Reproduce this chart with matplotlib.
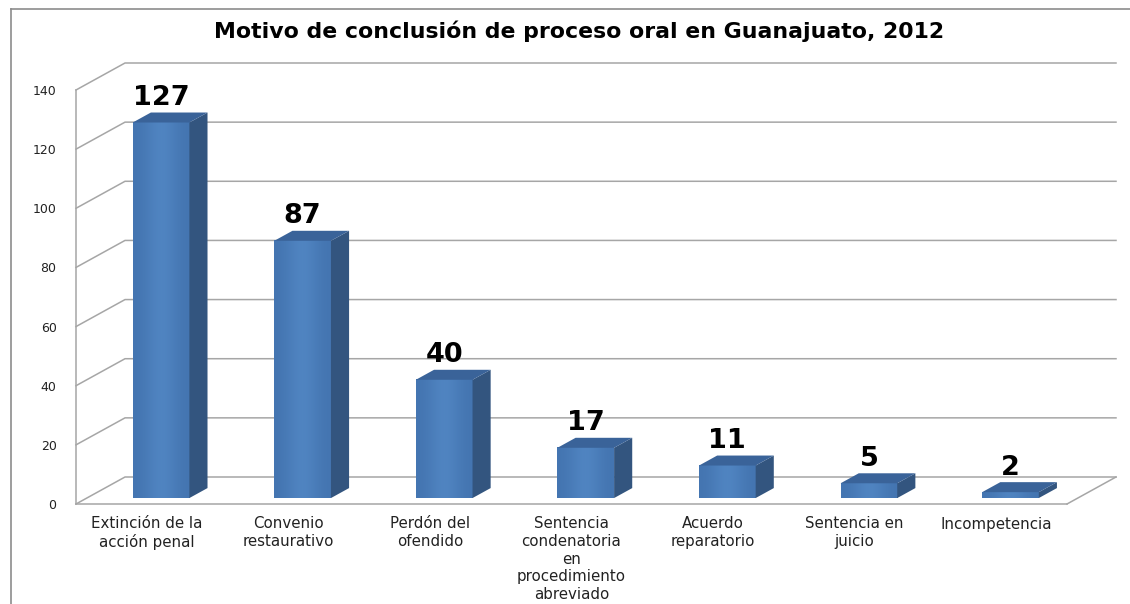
import matplotlib
matplotlib.use("Agg")
import matplotlib.pyplot as plt
from matplotlib.patches import Polygon
from matplotlib.lines import Line2D
from matplotlib.colors import LinearSegmentedColormap
import numpy as np

title = "Motivo de conclusión de proceso oral en Guanajuato, 2012"
categories = ["Extinción de la\nacción penal", "Convenio\nrestaurativo", "Perdón del\nofendido",
              "Sentencia\ncondenatoria\nen\nprocedimiento\nabreviado", "Acuerdo\nreparatorio",
              "Sentencia en\njuicio", "Incompetencia"]
values = [127, 87, 40, 17, 11, 5, 2]
yticks = [0, 20, 40, 60, 80, 100, 120, 140]

W, H = 1130, 604
fig = plt.figure(figsize=(W / 100, H / 100), dpi=100)
fig.patch.set_facecolor("white")

# axes placement (front plane)
x0px, x1px, y0px, y1px = 76, 1067, 504, 90
ax = fig.add_axes([x0px / W, 1 - y0px / H, (x1px - x0px) / W, (y0px - y1px) / H])
n = len(values)
xmin, xmax = -0.5, n - 0.5
ymax = 140
ax.set_xlim(xmin, xmax)
ax.set_ylim(0, ymax)

# depth vector in data units
px_x = (x1px - x0px) / (xmax - xmin)
px_y = (y0px - y1px) / ymax
Dx, Dy = 49 / px_x, 27 / px_y
f0, f1 = 0.22, 0.59
hw = 0.2
xs = 3.5 / px_x

grid_c = "#a6a6a6"
for t in yticks:
    ax.add_line(Line2D([xmin, xmin + Dx, xmax + Dx], [t, t + Dy, t + Dy],
                       color=grid_c, lw=1.1, clip_on=False, zorder=1))
ax.add_line(Line2D([xmax, xmax + Dx], [0, Dy], color=grid_c, lw=1.1, clip_on=False, zorder=1))

side_c = "#33557f"
top_c = "#3a6399"
grad = np.array([[0.0, 0.5, 1.0, 0.5, 0.0]])
cmap = LinearSegmentedColormap.from_list("b", ["#4475b1", "#5287c4"])

for i, v in enumerate(values):
    c = i + xs
    xl = c - hw + f0 * Dx
    xr = c + hw + f0 * Dx
    yb = f0 * Dy
    yt = v + f0 * Dy
    ax.imshow(grad, extent=[xl, xr, yb, yt], aspect="auto", cmap=cmap,
              interpolation="bicubic", zorder=3, clip_on=False)
    ax.add_patch(Polygon([(xr, yb), (c + hw + f1 * Dx, f1 * Dy), (c + hw + f1 * Dx, v + f1 * Dy), (xr, yt)],
                         closed=True, facecolor=side_c, edgecolor="none", zorder=3, clip_on=False))
    ax.add_patch(Polygon([(xl, yt), (xr, yt), (c + hw + f1 * Dx, v + f1 * Dy), (c - hw + f1 * Dx, v + f1 * Dy)],
                         closed=True, facecolor=top_c, edgecolor="none", zorder=3, clip_on=False))
    ax.annotate(str(v), xy=(c + f0 * Dx, v + f1 * Dy), xytext=(0, 1), textcoords="offset points",
                ha="center", va="bottom", fontsize=19.5, fontweight="bold", color="black",
                zorder=5, annotation_clip=False)

ax.set_xlim(xmin, xmax)
ax.set_ylim(0, ymax)

for s in ["top", "right"]:
    ax.spines[s].set_visible(False)
for s in ["left", "bottom"]:
    ax.spines[s].set_color(grid_c)
    ax.spines[s].set_linewidth(1.1)
ax.set_facecolor("none")

ax.set_yticks(yticks)
ax.set_yticklabels([str(t) for t in yticks], fontsize=9, color="#222222")
ax.tick_params(axis="y", length=0, pad=14)
ax.set_xticks(range(n))
ax.set_xticklabels(categories, fontsize=10.8, color="#222222", linespacing=1.22)
ax.tick_params(axis="x", length=0, pad=9)

fig.text(579 / W, 1 - 31 / H, title, ha="center", va="center", fontsize=15.8,
         fontweight="bold", color="black")

# chart border
fig.add_artist(Line2D([11 / W, 1.0], [1 - 9 / H, 1 - 9 / H], transform=fig.transFigure,
                      color="#8c8c8c", lw=1.2))
fig.add_artist(Line2D([11 / W, 11 / W], [0, 1 - 9 / H], transform=fig.transFigure,
                      color="#8c8c8c", lw=1.2))

fig.savefig("out.png", dpi=100, facecolor="white")
